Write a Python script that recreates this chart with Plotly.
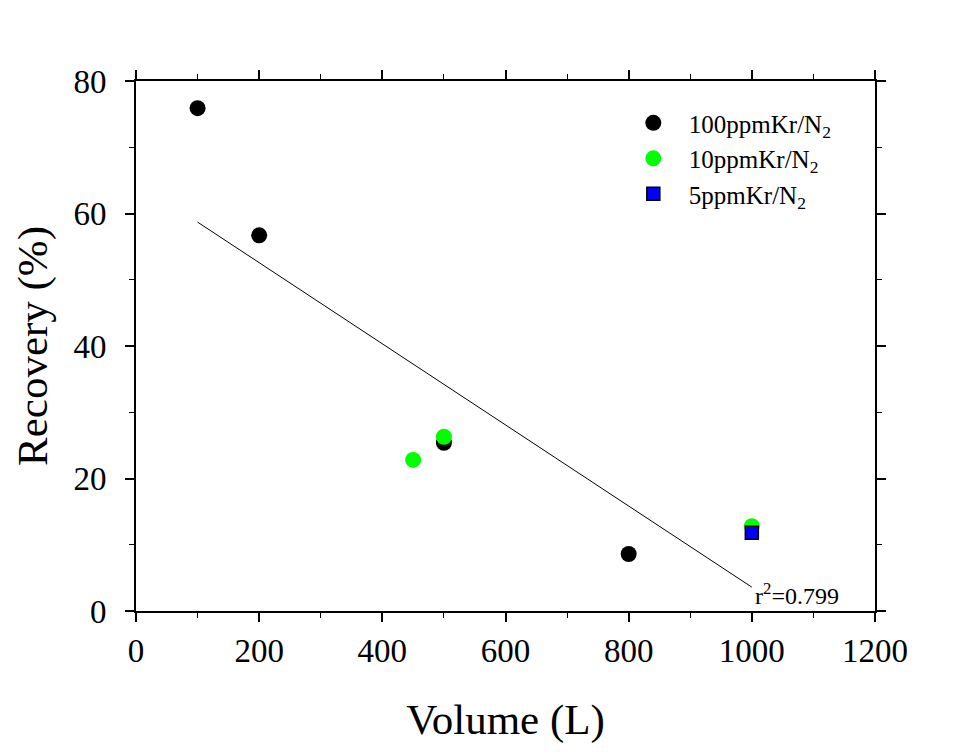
import plotly.graph_objects as go

# data
vol_100 = [100, 200, 500, 800]
rec_100 = [75.9, 56.7, 25.4, 8.6]
vol_10 = [450, 500, 1000]
rec_10 = [22.8, 26.3, 12.8]
vol_5 = [1000]
rec_5 = [11.8]
fit_x = [100, 1000]
fit_y = [58.7, 3.6]
r2_label = "r<sup>2</sup>=0.799"

serif = "Liberation Serif, Times New Roman, serif"

fig = go.Figure()
fig.add_trace(go.Scatter(x=fit_x, y=fit_y, mode='lines', line=dict(color='black', width=1),
                         showlegend=False, hoverinfo='skip'))
fig.add_trace(go.Scatter(x=vol_100, y=rec_100, mode='markers', name='100ppmKr/N<sub>2</sub>',
                         marker=dict(symbol='circle', size=16, color='black')))
fig.add_trace(go.Scatter(x=vol_10, y=rec_10, mode='markers', name='10ppmKr/N<sub>2</sub>',
                         marker=dict(symbol='circle', size=16, color='#00ff00')))
fig.add_trace(go.Scatter(x=vol_5, y=rec_5, mode='markers', name='5ppmKr/N<sub>2</sub>',
                         marker=dict(symbol='square', size=13, color='#0000ff',
                                     line=dict(color='black', width=1.5))))

fig.add_annotation(x=1002, y=2.6, xref='x', yref='y', text=r2_label, showarrow=False,
                   xanchor='left', yanchor='middle', font=dict(family=serif, size=24, color='black'))

axis_common = dict(showline=True, linecolor='black', linewidth=2, mirror='ticks',
                   ticks='outside', ticklen=9, tickwidth=1.5, tickcolor='black',
                   showgrid=False, zeroline=False,
                   tickfont=dict(family=serif, size=33, color='black'))

fig.update_xaxes(range=[0, 1200], tick0=0, dtick=200,
                 minor=dict(dtick=100, ticks='outside', ticklen=5, tickcolor='black', tickwidth=1),
                 title=dict(text='Volume (L)', font=dict(family=serif, size=43, color='black'), standoff=36),
                 **axis_common)
fig.update_yaxes(range=[0, 80], tick0=0, dtick=20, ticklabelstandoff=12,
                 minor=dict(dtick=10, ticks='outside', ticklen=5, tickcolor='black', tickwidth=1),
                 title=dict(text='Recovery (%)', font=dict(family=serif, size=43, color='black'), standoff=12),
                 **axis_common)

# page body adds an 8px offset, so the figure is made 8px smaller
fig.update_layout(
    width=949, height=744,
    margin=dict(l=128, r=82, t=73, b=141),
    plot_bgcolor='white', paper_bgcolor='white',
    legend=dict(x=0.652, y=0.964, xanchor='left', yanchor='top', bgcolor='rgba(0,0,0,0)',
                itemwidth=61, font=dict(family=serif, size=25, color='black'), tracegroupgap=6),
)

fig.write_html("out.html")
